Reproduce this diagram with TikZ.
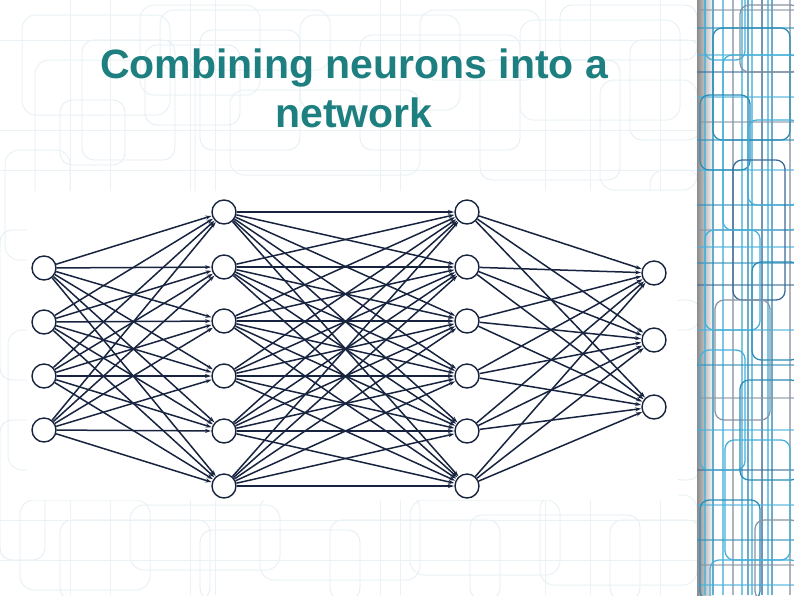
\documentclass[tikz,border=0pt]{standalone}
\usepackage{fontspec}
\setmainfont{Liberation Sans}
\usetikzlibrary{arrows.meta}
\definecolor{titleteal}{HTML}{1E7F80}
\definecolor{netblue}{HTML}{18243F}
\definecolor{faint}{HTML}{EAF2F6}
\definecolor{faintb}{HTML}{E2EDF2}
\definecolor{skyA}{HTML}{45B0DC}
\definecolor{skyB}{HTML}{2A8DB8}
\definecolor{greyC}{HTML}{8A95A3}
\definecolor{navyD}{HTML}{3A6A98}
\tikzset{
  neuron/.style={circle, draw=netblue, line width=1.4pt, fill=white, minimum size=24pt, inner sep=0pt},
  conn/.style={draw=netblue, line width=1.5pt, -{Stealth[length=6pt,width=4pt]}, shorten >=0.3pt},
  faintbox/.style={draw=faint, line width=1pt, rounded corners=14pt},
  faintbox2/.style={draw=faintb, line width=0.8pt, rounded corners=12pt},
  stripline/.style={line width=1.3pt, rounded corners=9pt},
  titletext/.style={text=titleteal, font=\bfseries\fontsize{41}{47}\selectfont, align=center}
}
\begin{document}
\begin{tikzpicture}[x=1pt,y=-1pt]
\useasboundingbox (0,0) rectangle (794,595);
\fill[white] (0,0) rectangle (794,595);
% faint background pattern
\begin{scope}
\clip (0,0) rectangle (697,595);
\draw[faintbox] (22,15) rectangle (170,115);
\draw[faintbox] (35,60) rectangle (195,205);
\draw[faintbox2] (60,100) rectangle (125,165);
\draw[faintbox] (140,5) rectangle (260,95);
\draw[faintbox2] (82,40) rectangle (175,160);
\draw[faintbox] (160,10) rectangle (330,70);
\draw[faintbox2] (200,30) rectangle (300,150);
\draw[faintbox] (230,90) rectangle (420,175);
\draw[faintbox2] (145,45) rectangle (240,125);
\draw[faintbox] (300,15) rectangle (460,110);
\draw[faintbox2] (360,35) rectangle (520,150);
\draw[faintbox] (420,10) rectangle (540,80);
\draw[faintbox2] (480,60) rectangle (620,180);
\draw[faintbox] (520,20) rectangle (680,120);
\draw[faintbox2] (560,5) rectangle (697,60);
\draw[faintbox] (600,80) rectangle (697,190);
\draw[faintbox2] (630,40) rectangle (700,140);
\draw[faintbox] (5,150) rectangle (70,260);
\draw[faintbox2] (0,230) rectangle (40,380);
\draw[faintbox] (8,330) rectangle (60,470);
\draw[faintbox2] (0,420) rectangle (45,560);
\draw[faintbox] (20,500) rectangle (150,590);
\draw[faintbox2] (60,520) rectangle (210,600);
\draw[faintbox] (130,505) rectangle (280,570);
\draw[faintbox2] (200,530) rectangle (360,600);
\draw[faintbox] (260,495) rectangle (420,580);
\draw[faintbox2] (330,520) rectangle (500,600);
\draw[faintbox] (410,500) rectangle (560,575);
\draw[faintbox2] (470,515) rectangle (640,600);
\draw[faintbox] (540,495) rectangle (697,585);
\draw[faintbox2] (610,520) rectangle (700,600);
\draw[faintbox] (650,170) rectangle (700,330);
\draw[faintbox2] (670,300) rectangle (700,480);
\foreach \x in {70,110,190,215,380,400,545,590,660} \draw[faint, line width=0.7pt] (\x,0) -- (\x,595);
\foreach \y in {40,130,170,520,560} \draw[faint, line width=0.7pt] (0,\y) -- (697,\y);
\end{scope}
% right decorative strip
\begin{scope}
\clip (697,0) rectangle (794,595);
\shade[left color=black!45, right color=white] (697,0) rectangle (714,595);
\foreach \x/\c in {705/skyA,713/skyB,723/skyA,733/greyC,742/skyA,748/skyB,752/skyA,762/navyD,768/skyA,772/skyB,790/greyC}
  \draw[\c, line width=1.2pt, opacity=0.7] (\x,0) -- (\x,595);
\foreach \y/\c in {10/greyC,28/skyB,55/skyA,72/navyD,97/skyA,122/greyC,140/skyB,170/skyA,205/skyB,230/greyC,247/skyA,263/skyB,285/navyD,330/skyA,365/skyB,398/greyC,430/skyA,470/navyD,505/skyA,540/skyB,565/greyC,585/skyA}
  \draw[\c, line width=1.1pt, opacity=0.55] (697,\y) -- (794,\y);
\draw[stripline, skyA] (705,-10) rectangle (745,60);
\draw[stripline, skyB] (713,28) rectangle (790,140);
\draw[stripline, skyA] (723,55) rectangle (800,230);
\draw[stripline, greyC] (740,5) rectangle (800,72);
\draw[stripline, skyB] (700,95) rectangle (750,170);
\draw[stripline, skyA] (748,120) rectangle (800,205);
\draw[stripline, navyD] (733,160) rectangle (785,300);
\draw[stripline, skyA] (705,230) rectangle (760,330);
\draw[stripline, skyB] (752,262) rectangle (800,360);
\draw[stripline, greyC] (715,300) rectangle (770,420);
\draw[stripline, skyA] (700,350) rectangle (745,470);
\draw[stripline, skyB] (740,380) rectangle (800,480);
\draw[stripline, skyA] (725,440) rectangle (790,560);
\draw[stripline, skyB] (700,500) rectangle (760,600);
\draw[stripline, greyC] (755,520) rectangle (800,600);
\draw[stripline, skyA] (710,560) rectangle (800,620);
\end{scope}
% title
\node[titletext, anchor=base] (t1) at (354,78) {Combining neurons into a};
\node[titletext, anchor=base] (t2) at (354,127) {network};
% image panel
\fill[white] (27,191) rectangle (678,500);
% neurons
\foreach \i/\y in {1/268,2/322,3/376,4/430} \node[neuron] (a\i) at (44,\y) {};
\foreach \i/\y in {1/212,2/267,3/321,4/376,5/431,6/486} \node[neuron] (b\i) at (224,\y) {};
\foreach \i/\y in {1/212,2/267,3/321,4/376,5/431,6/486} \node[neuron] (c\i) at (467,\y) {};
\foreach \i/\y in {1/273,2/340,3/407} \node[neuron] (d\i) at (654,\y) {};
% connections
\foreach \i in {1,...,4} \foreach \j in {1,...,6} \draw[conn] (a\i) -- (b\j);
\foreach \i in {1,...,6} \foreach \j in {1,...,6} \draw[conn] (b\i) -- (c\j);
\foreach \i in {1,...,6} \foreach \j in {1,...,3} \draw[conn] (c\i) -- (d\j);
\end{tikzpicture}
\end{document}
